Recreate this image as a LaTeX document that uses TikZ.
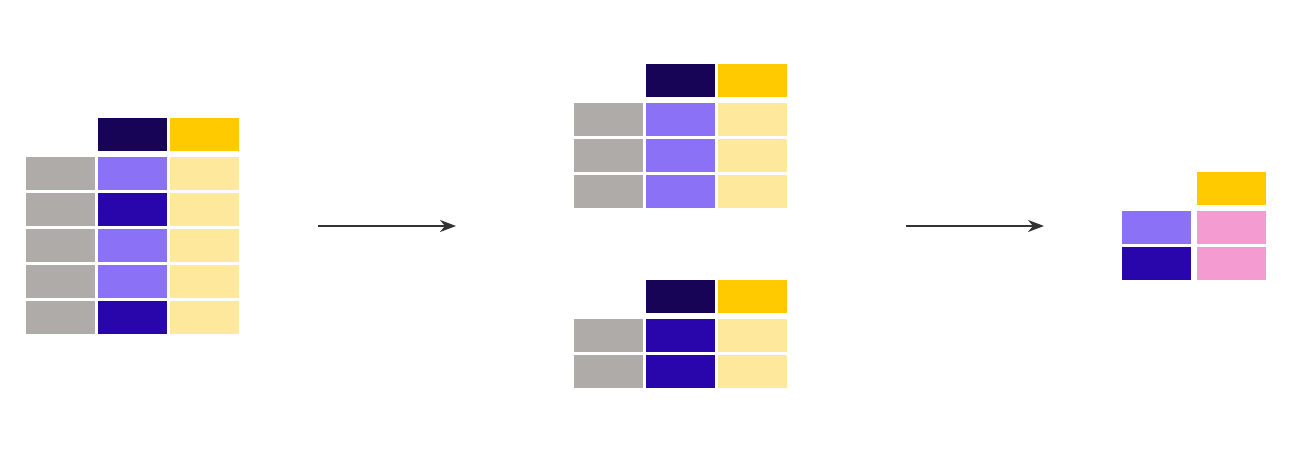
\documentclass[tikz,border=0pt]{standalone}
\usetikzlibrary{arrows.meta}
\definecolor{hdark}{HTML}{170457}
\definecolor{hyel}{HTML}{FFCB00}
\definecolor{cgrey}{HTML}{AEABA9}
\definecolor{lpurp}{HTML}{8B71F6}
\definecolor{dpurp}{HTML}{2806AB}
\definecolor{lyel}{HTML}{FEE89C}
\definecolor{cpink}{HTML}{F49CD1}
\tikzset{
  cell/.style={fill=#1, draw=none, inner sep=0pt, minimum width=69pt, minimum height=33pt, anchor=north west, shape=rectangle},
  flow/.style={draw=black!80, line width=1.3pt, -{Stealth[length=16pt,width=12pt,inset=5pt]}}
}
\begin{document}
\begin{tikzpicture}[x=1pt,y=-1pt]
\useasboundingbox (0,0) rectangle (1296,467);
% left table
\node[cell=hdark] (LH2) at (98,118) {};
\node[cell=hyel] (LH3) at (170,118) {};
\foreach \r/\c in {1/lpurp,2/dpurp,3/lpurp,4/lpurp,5/dpurp}{
  \node[cell=cgrey] (L\r a) at (26,{157+36*(\r-1)}) {};
  \node[cell=\c] (L\r b) at (98,{157+36*(\r-1)}) {};
  \node[cell=lyel] (L\r c) at (170,{157+36*(\r-1)}) {};
}
% middle top table
\node[cell=hdark] (TH2) at (646,64) {};
\node[cell=hyel] (TH3) at (718,64) {};
\foreach \r in {1,2,3}{
  \node[cell=cgrey] (T\r a) at (574,{103+36*(\r-1)}) {};
  \node[cell=lpurp] (T\r b) at (646,{103+36*(\r-1)}) {};
  \node[cell=lyel] (T\r c) at (718,{103+36*(\r-1)}) {};
}
% middle bottom table
\node[cell=hdark] (BH2) at (646,280) {};
\node[cell=hyel] (BH3) at (718,280) {};
\foreach \r in {1,2}{
  \node[cell=cgrey] (B\r a) at (574,{319+36*(\r-1)}) {};
  \node[cell=dpurp] (B\r b) at (646,{319+36*(\r-1)}) {};
  \node[cell=lyel] (B\r c) at (718,{319+36*(\r-1)}) {};
}
% right table
\node[cell=hyel] (RH) at (1197,172) {};
\node[cell=lpurp] (R1a) at (1122,211) {};
\node[cell=cpink] (R1b) at (1197,211) {};
\node[cell=dpurp] (R2a) at (1122,247) {};
\node[cell=cpink] (R2b) at (1197,247) {};
% arrows
\coordinate (A1s) at (318,226);
\coordinate (A1e) at (456,226);
\coordinate (A2s) at (906,226);
\coordinate (A2e) at (1044,226);
\draw[flow] (A1s) -- (A1e);
\draw[flow] (A2s) -- (A2e);
\end{tikzpicture}
\end{document}
